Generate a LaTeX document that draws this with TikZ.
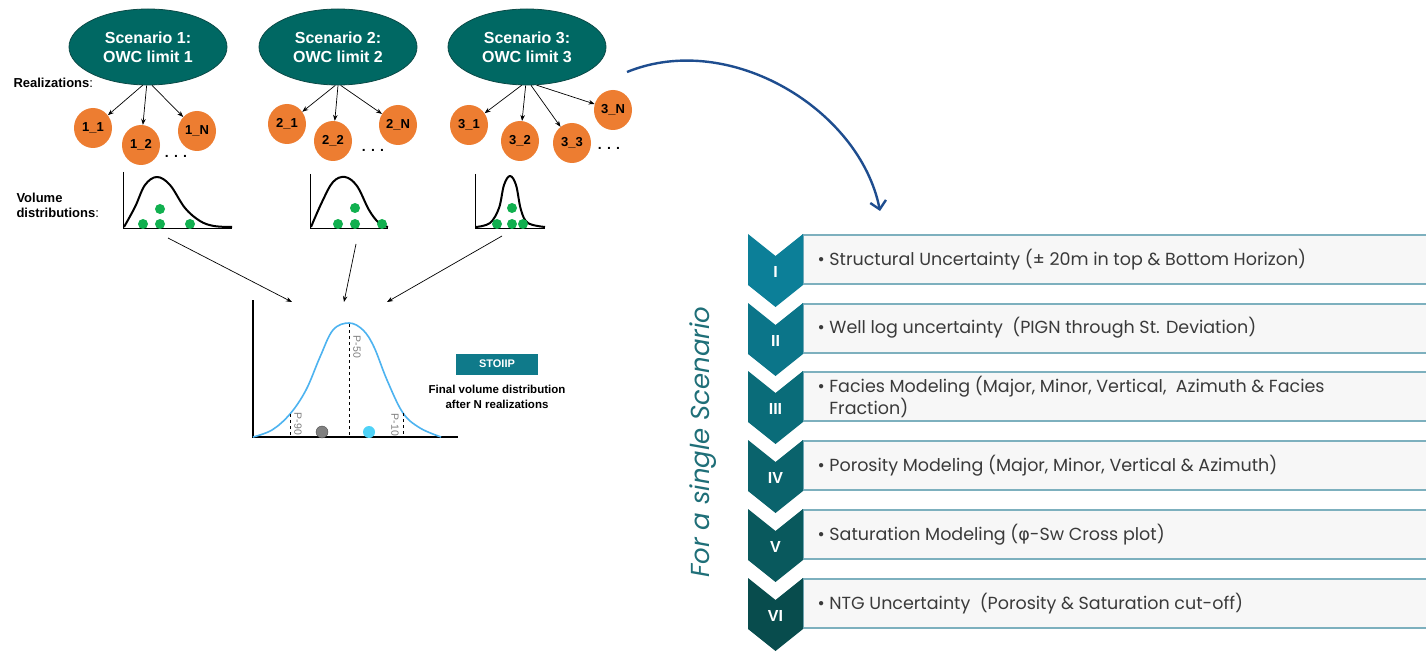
\documentclass[tikz,border=0pt]{standalone}
\usepackage{fontspec}
\setmainfont{Liberation Sans}
\newfontfamily\gothic{Poppins}
\newfontfamily\symfont{DejaVu Sans}
\usetikzlibrary{arrows.meta,shapes.geometric,calc}
\definecolor{scen}{HTML}{006863}
\definecolor{scenb}{HTML}{0B4A47}
\definecolor{orng}{HTML}{ED7D31}
\definecolor{grn}{HTML}{11B04F}
\definecolor{lblue}{HTML}{4DB3F0}
\definecolor{cyanb}{HTML}{4FD2F7}
\definecolor{stoiip}{HTML}{0F7A8A}
\definecolor{arrowblue}{HTML}{1E4D8F}
\definecolor{boxfill}{HTML}{F7F7F7}
\definecolor{boxline}{HTML}{7DB0BE}
\definecolor{txtgray}{HTML}{3A3A3A}
\definecolor{vtext}{HTML}{1F6F78}
\definecolor{cI}{HTML}{0C7F98}
\definecolor{cII}{HTML}{0B7589}
\definecolor{cIII}{HTML}{0A6C79}
\definecolor{cIV}{HTML}{0A636C}
\definecolor{cV}{HTML}{09595D}
\definecolor{cVI}{HTML}{084C4D}
\tikzset{
  scenario/.style={ellipse, fill=scen, draw=scenb, line width=0.8pt, minimum width=158pt, minimum height=76pt, inner sep=0pt, align=center, text=white, font=\bfseries\fontsize{16}{19}\selectfont},
  real/.style={ellipse, fill=orng, minimum width=38pt, minimum height=40pt, inner sep=0pt, font=\bfseries\fontsize{13}{13}\selectfont},
  thinarrow/.style={-{Stealth[length=6pt,width=4.5pt]}, line width=0.7pt, black},
  greendot/.style={circle, fill=grn, minimum size=10pt, inner sep=0pt},
  dots/.style={font=\bfseries\fontsize{14}{14}\selectfont},
  lbl/.style={font=\bfseries\fontsize{13}{15}\selectfont, align=left},
  plabel/.style={rotate=-90, text=gray, font=\rmfamily\fontsize{10.5}{10.5}\selectfont, inner sep=1pt},
  stepbox/.style={draw=boxline, fill=boxfill, line width=1.3pt},
  steptext/.style={anchor=west, text=txtgray, align=left, font=\gothic\fontsize{17.5}{22}\selectfont},
  numeral/.style={text=white, font=\bfseries\fontsize{16}{16}\selectfont}
}
\begin{document}
\begin{tikzpicture}[x=1pt,y=-1pt]
\useasboundingbox[fill=white] (0,0) rectangle (1426,652);

% scenarios
\node[scenario] (s1) at (148,47) {Scenario 1:\\OWC limit 1};
\node[scenario] (s2) at (338,47) {Scenario 2:\\OWC limit 2};
\node[scenario] (s3) at (527,47) {Scenario 3:\\OWC limit 3};

\node[lbl, anchor=west] (realiz) at (10,83) {Realizations\textmd{:}};

% realizations
\node[real] (r11) at (93,128) {1\_1};
\node[real] (r12) at (141,145) {1\_2};
\node[real] (r1N) at (197,131) {1\_N};
\node[dots] (d1) at (176,156) {. . .};
\node[real] (r21) at (287,124) {2\_1};
\node[real] (r22) at (333,141) {2\_2};
\node[real] (r2N) at (398,125) {2\_N};
\node[dots] (d2) at (373,150) {. . .};
\node[real] (r31) at (469,125) {3\_1};
\node[real] (r32) at (520,141) {3\_2};
\node[real] (r33) at (572,143) {3\_3};
\node[real] (r3N) at (613,110) {3\_N};
\node[dots] (d3) at (609,148) {. . .};

\draw[thinarrow] (s1.262) -- (r11);
\draw[thinarrow] (s1.268) -- (r12);
\draw[thinarrow] (s1.276) -- (r1N);
\draw[thinarrow] (s2.266) -- (r21);
\draw[thinarrow] (s2.270) -- (r22);
\draw[thinarrow] (s2.274) -- (r2N);
\draw[thinarrow] (s3.262) -- (r31);
\draw[thinarrow] (s3.268) -- (r32);
\draw[thinarrow] (s3.276) -- (r33);
\draw[thinarrow] (s3.284) -- (r3N);

% volume distributions
\node[lbl, anchor=west] (voldist) at (13,205) {Volume\\distributions\textmd{:}};

% mini plot 1
\draw[line width=0.8pt] (123,172) -- (123,228) -- (232,228);
\draw[line width=2pt, line join=round] plot[smooth, tension=0.6] coordinates {(124,227) (135,207) (145,185) (157,177) (170,185) (185,208) (200,221) (214,226) (232,227)};
\node[greendot] (g11) at (160,209) {};
\node[greendot] (g12) at (143,224) {};
\node[greendot] (g13) at (160,224) {};
\node[greendot] (g14) at (190,224) {};
% mini plot 2
\draw[line width=0.8pt] (310,174) -- (310,228) -- (388,228);
\draw[line width=2pt, line join=round] plot[smooth, tension=0.6] coordinates {(311,227) (322,202) (333,182) (345,177) (357,186) (369,210) (379,223) (388,227)};
\node[greendot] (g21) at (355,208) {};
\node[greendot] (g22) at (338,224) {};
\node[greendot] (g23) at (355,224) {};
\node[greendot] (g24) at (382,224) {};
% mini plot 3
\draw[line width=0.8pt] (475,174) -- (475,228) -- (545,228);
\draw[line width=2pt, line join=round] plot[smooth, tension=0.6] coordinates {(476,227) (490,223) (499,208) (504,185) (510,176) (516,185) (521,210) (528,223) (545,227)};
\node[greendot] (g31) at (512,208) {};
\node[greendot] (g32) at (497,224) {};
\node[greendot] (g33) at (512,224) {};
\node[greendot] (g34) at (523,224) {};

% arrows to final plot
\coordinate (a1s) at (168,238);
\coordinate (a1e) at (292,302);
\coordinate (a2s) at (356,244);
\coordinate (a2e) at (344,302);
\coordinate (a3s) at (502,236);
\coordinate (a3e) at (387,302);
\draw[thinarrow] (a1s) -- (a1e);
\draw[thinarrow] (a2s) -- (a2e);
\draw[thinarrow] (a3s) -- (a3e);

% final plot
\draw[line width=1.6pt] (253,300) -- (253,437) -- (458,437);
\draw[lblue, line width=1.6pt] plot[smooth, tension=0.6] coordinates {(253,437) (272,430) (290,414) (306,390) (320,357) (333,330) (349,323) (363,330) (374,347) (387,380) (403,413) (420,428) (441,437)};
\draw[dashed, line width=0.8pt] (349,324) -- (349,437);
\draw[dashed, line width=0.8pt] (290,414) -- (290,437);
\draw[dashed, line width=0.8pt] (403,413) -- (403,437);
\node[plabel] (p50) at (357,347) {P-50};
\node[plabel] (p90) at (298,424) {P-90};
\node[plabel] (p10) at (395,425) {P-10};
\node[circle, fill=gray, draw=gray!60!black, minimum size=12pt, inner sep=0pt] (gdot) at (322,432) {};
\node[circle, fill=cyanb, minimum size=12pt, inner sep=0pt] (cdot) at (369,432) {};
\node[fill=stoiip, text=white, minimum width=82pt, minimum height=21pt, inner sep=0pt, font=\bfseries\fontsize{11}{11}\selectfont] (stoiip) at (497,364) {STOIIP};
\node[align=center, font=\bfseries\fontsize{11.5}{15}\selectfont] (finaltxt) at (497,397) {Final volume distribution\\after N realizations};

% big curved arrow
\coordinate (cs) at (627,72);
\coordinate (ce) at (880,211);
\draw[arrowblue, line width=2.4pt, -{Straight Barb[length=8pt,width=16pt,line width=2.4pt]}] (cs) .. controls (730,30) and (860,110) .. (ce);

% vertical text
\node[rotate=90, text=vtext, font=\gothic\itshape\fontsize{26}{26}\selectfont] (single) at (703,442) {For a single Scenario};

% steps
\foreach \T/\c/\num/\nm in {235/cI/I/1, 304/cII/II/2, 372/cIII/III/3, 441/cIV/IV/4, 510/cV/V/5, 579/cVI/VI/6}{
  \draw[stepbox] (803,\T) rectangle (1432,\T+49);
  \fill[\c] (748,\T-1) -- (775.5,\T+21) -- (803,\T-1) -- (803,\T+50) -- (775.5,\T+72) -- (748,\T+50) -- cycle;
  \node[numeral] (n\nm) at (775.5,\T+37) {\num};
}
\node[steptext] (t1) at (814,260) {• Structural Uncertainty (± 20m in top \& Bottom Horizon)};
\node[steptext] (t2) at (814,328) {• Well log uncertainty \ (PIGN through St. Deviation)};
\node[steptext] (t3) at (814,397) {• Facies Modeling (Major, Minor, Vertical, \ Azimuth \& Facies\\\phantom{• }Fraction)};
\node[steptext] (t4) at (814,466) {• Porosity Modeling (Major, Minor, Vertical \& Azimuth)};
\node[steptext] (t5) at (814,535) {• Saturation Modeling ({\symfont φ}-Sw Cross plot)};
\node[steptext] (t6) at (814,604) {• NTG Uncertainty \ (Porosity \& Saturation cut-off)};
\end{tikzpicture}
\end{document}
